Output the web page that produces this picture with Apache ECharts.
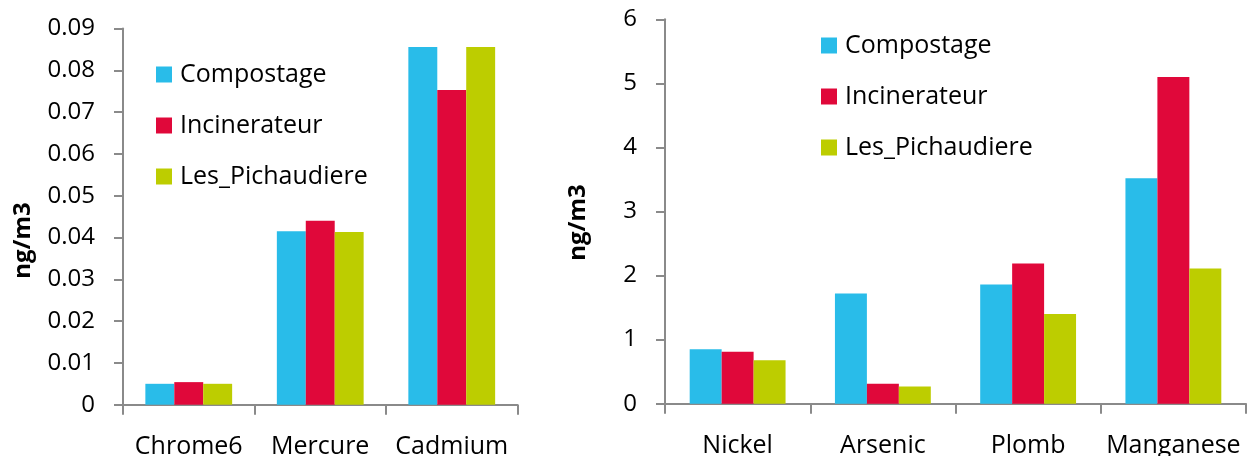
<!DOCTYPE html>
<html>
<head>
<meta charset="utf-8">
<title>Métaux dans l'air</title>
<script src="https://cdn.jsdelivr.net/npm/echarts@6/dist/echarts.min.js"></script>
<style>
  html, body { margin: 0; padding: 0; background: #fff; }
  #chart { width: 1248px; height: 456px; }
</style>
</head>
<body>
<div id="chart"></div>
<script>
// Sites de mesure
const sites = ['Compostage', 'Incinerateur', 'Les_Pichaudiere'];
const siteColors = ['#29BCE9', '#E0083A', '#BDCD00'];

// Panneau gauche : métaux à faible concentration
const leftCategories = ['Chrome6', 'Mercure', 'Cadmium'];
const leftCompostage = [0.0050, 0.0415, 0.0856];
const leftIncinerateur = [0.0054, 0.0440, 0.0753];
const leftPichaudiere = [0.0050, 0.0413, 0.0856];
const leftTicks = [0, 0.01, 0.02, 0.03, 0.04, 0.05, 0.06, 0.07, 0.08, 0.09];

// Panneau droit
const rightCategories = ['Nickel', 'Arsenic', 'Plomb', 'Manganese'];
const rightCompostage = [0.85, 1.72, 1.86, 3.52];
const rightIncinerateur = [0.81, 0.31, 2.19, 5.10];
const rightPichaudiere = [0.68, 0.27, 1.40, 2.11];
const rightTicks = [0, 1, 2, 3, 4, 5, 6];

const unit = 'ng/m3';
const FONT = '"Open Sans", "Noto Sans", sans-serif';

const axisLineStyle = { color: '#8a8a8a', width: 2 };

function valueAxis(ticks, gridIndex, nameGap, namePad) {
  return {
    type: 'value',
    gridIndex: gridIndex,
    min: ticks[0],
    max: ticks[ticks.length - 1],
    interval: ticks[1] - ticks[0],
    name: unit,
    nameLocation: 'middle',
    nameRotate: 90,
    nameGap: nameGap,
    nameTextStyle: {
      fontFamily: FONT, fontSize: 24, fontWeight: 'bold', color: '#000',
      padding: [0, namePad, 0, 0]
    },
    axisLine: { show: true, lineStyle: axisLineStyle },
    axisTick: { show: true, length: 9, lineStyle: axisLineStyle },
    splitLine: { show: false },
    axisLabel: { fontFamily: FONT, fontSize: 24, color: '#000', margin: 28 }
  };
}

function categoryAxis(categories, gridIndex) {
  return {
    type: 'category',
    gridIndex: gridIndex,
    data: categories,
    axisLine: { show: true, lineStyle: axisLineStyle },
    axisTick: { show: true, length: 10, lineStyle: axisLineStyle },
    axisLabel: { fontFamily: FONT, fontSize: 25, color: '#000', margin: 30, interval: 0 }
  };
}

function barSeries(name, data, idx, axisIndex) {
  return {
    type: 'bar',
    name: name,
    data: data,
    xAxisIndex: axisIndex,
    yAxisIndex: axisIndex,
    itemStyle: { color: siteColors[idx] },
    barGap: '0%',
    barCategoryGap: '34%',
    animation: false
  };
}

function legendAt(left, top) {
  return {
    orient: 'vertical',
    left: left,
    top: top,
    padding: 0,
    data: sites,
    icon: 'rect',
    itemWidth: 16,
    itemHeight: 16,
    itemGap: 26,
    selectedMode: false,
    textStyle: { fontFamily: FONT, fontSize: 25, color: '#000', padding: [0, 0, 0, 3] }
  };
}

const chart = echarts.init(document.getElementById('chart'), null, { renderer: 'canvas' });
chart.setOption({
  backgroundColor: '#fff',
  animation: false,
  legend: [legendAt(156, 62), legendAt(821, 33)],
  grid: [
    { left: 123, top: 28.5, width: 394.5, height: 376.2, containLabel: false, outerBoundsMode: 'none' },
    { left: 665, top: 19.3, width: 581, height: 384.4, containLabel: false, outerBoundsMode: 'none' }
  ],
  xAxis: [categoryAxis(leftCategories, 0), categoryAxis(rightCategories, 1)],
  yAxis: [valueAxis(leftTicks, 0, 88, 48), valueAxis(rightTicks, 1, 75, 22)],
  series: [
    barSeries(sites[0], leftCompostage, 0, 0),
    barSeries(sites[1], leftIncinerateur, 1, 0),
    barSeries(sites[2], leftPichaudiere, 2, 0),
    barSeries(sites[0], rightCompostage, 0, 1),
    barSeries(sites[1], rightIncinerateur, 1, 1),
    barSeries(sites[2], rightPichaudiere, 2, 1)
  ]
});
</script>
</body>
</html>
